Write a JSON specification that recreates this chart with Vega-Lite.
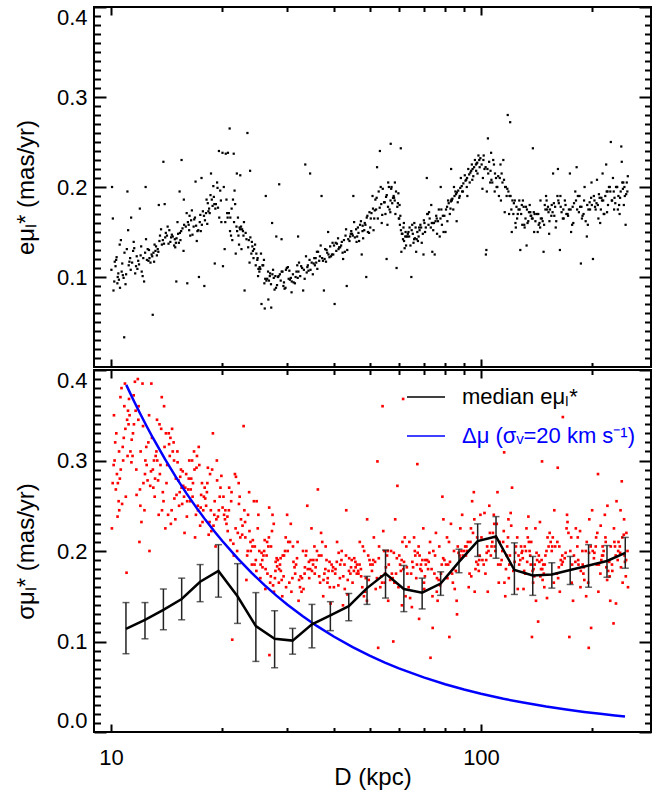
{
"$schema":"https://vega.github.io/schema/vega-lite/v6.json",
"padding":{"left":13,"top":5,"right":5,"bottom":5},
"spacing":0,
"resolve":{"scale":{"color":"independent"},"legend":{"color":"independent"}},
"config":{"font":"Liberation Sans","view":{"stroke":"#000","strokeWidth":2},
"axis":{"domain":false,"ticks":false,"tickSize":0,"grid":true,"gridColor":"#000","gridOpacity":1,"gridWidth":2,"gridCap":"butt","labelFont":"Liberation Sans","labelFontSize":22,"labelColor":"#000","titleFont":"Liberation Sans","titleFontSize":24,"titleFontWeight":"normal","titleColor":"#000"}},
"datasets":{
"top":[
{"d":10.07,"e":0.2},{"d":10.12,"e":0.165},{"d":10.21,"e":0.095},{"d":10.16,"e":0.085},{"d":10.43,"e":0.1},{"d":10.29,"e":0.112},{"d":10.58,"e":0.088},{"d":10.36,"e":0.122},{"d":10.77,"e":0.102},{"d":10.51,"e":0.097},{"d":10.64,"e":0.141},{"d":10.03,"e":0.108},{"d":10.88,"e":0.127},{"d":10.47,"e":0.104},{"d":10.95,"e":0.092},{"d":10.24,"e":0.117},{"d":11.04,"e":0.131},{"d":10.86,"e":0.033},{"d":10.69,"e":0.106},{"d":11.13,"e":0.152},{"d":10.33,"e":0.119},{"d":10.82,"e":0.099},{"d":11.08,"e":0.195},{"d":11.17,"e":0.113},{"d":10.56,"e":0.136},{"d":10.99,"e":0.103},{"d":10.41,"e":0.093},{"d":10.73,"e":0.115},
{"d":11.27,"e":0.121},{"d":11.63,"e":0.104},{"d":11.34,"e":0.166},{"d":11.91,"e":0.114},{"d":11.48,"e":0.129},{"d":12.18,"e":0.101},{"d":11.22,"e":0.117},{"d":12.44,"e":0.142},{"d":11.79,"e":0.109},{"d":12.03,"e":0.124},{"d":11.41,"e":0.116},{"d":12.29,"e":0.095},{"d":11.56,"e":0.132},{"d":12.51,"e":0.119},{"d":11.97,"e":0.176},{"d":11.69,"e":0.112},{"d":12.37,"e":0.127},{"d":11.85,"e":0.118},{"d":12.11,"e":0.106},{"d":11.52,"e":0.139},{"d":12.23,"e":0.121},{"d":12.41,"e":0.2},{"d":11.74,"e":0.123},{"d":12.57,"e":0.131},{"d":11.31,"e":0.108},{"d":12.07,"e":0.134},
{"d":12.63,"e":0.118},{"d":13.12,"e":0.136},{"d":12.88,"e":0.125},{"d":13.57,"e":0.146},{"d":12.71,"e":0.121},{"d":13.38,"e":0.131},{"d":12.97,"e":0.058},{"d":13.81,"e":0.141},{"d":13.03,"e":0.127},{"d":12.79,"e":0.116},{"d":13.66,"e":0.153},{"d":13.24,"e":0.134},{"d":12.93,"e":0.123},{"d":13.91,"e":0.137},{"d":13.47,"e":0.18},{"d":13.19,"e":0.129},{"d":14.02,"e":0.144},{"d":13.31,"e":0.124},{"d":13.73,"e":0.136},{"d":14.07,"e":0.149},{"d":12.67,"e":0.13},{"d":13.86,"e":0.228},{"d":13.52,"e":0.14},{"d":13.97,"e":0.181},{"d":13.08,"e":0.117},{"d":13.43,"e":0.128},
{"d":14.17,"e":0.146},{"d":14.92,"e":0.133},{"d":14.38,"e":0.152},{"d":15.26,"e":0.138},{"d":14.61,"e":0.147},{"d":15.71,"e":0.129},{"d":14.23,"e":0.156},{"d":15.04,"e":0.143},{"d":14.82,"e":0.135},{"d":15.48,"e":0.151},{"d":14.47,"e":0.139},{"d":15.13,"e":0.161},{"d":15.02,"e":0.095},{"d":14.69,"e":0.145},{"d":15.61,"e":0.154},{"d":14.31,"e":0.137},{"d":15.36,"e":0.149},{"d":15.33,"e":0.195},{"d":14.88,"e":0.142},{"d":15.52,"e":0.23},{"d":15.77,"e":0.158},{"d":14.54,"e":0.144},{"d":15.19,"e":0.148},{"d":15.74,"e":0.186},{"d":14.98,"e":0.138},{"d":15.41,"e":0.141},
{"d":15.93,"e":0.156},{"d":16.61,"e":0.147},{"d":16.14,"e":0.161},{"d":16.08,"e":0.093},{"d":17.22,"e":0.152},{"d":16.38,"e":0.146},{"d":16.87,"e":0.166},{"d":16.22,"e":0.158},{"d":17.49,"e":0.151},{"d":16.02,"e":0.171},{"d":16.73,"e":0.156},{"d":17.06,"e":0.14},{"d":16.47,"e":0.163},{"d":16.93,"e":0.206},{"d":17.61,"e":0.158},{"d":16.31,"e":0.168},{"d":17.13,"e":0.151},{"d":16.55,"e":0.174},{"d":17.38,"e":0.161},{"d":17.29,"e":0.1},{"d":16.79,"e":0.164},{"d":17.72,"e":0.173},{"d":16.99,"e":0.157},{"d":17.57,"e":0.21},{"d":17.44,"e":0.169},{"d":16.27,"e":0.152},
{"d":17.88,"e":0.09},{"d":18.42,"e":0.176},{"d":17.95,"e":0.163},{"d":19.21,"e":0.181},{"d":18.07,"e":0.171},{"d":18.73,"e":0.186},{"d":18.21,"e":0.159},{"d":19.47,"e":0.177},{"d":18.58,"e":0.191},{"d":17.84,"e":0.168},{"d":18.64,"e":0.215},{"d":19.03,"e":0.181},{"d":18.34,"e":0.173},{"d":18.91,"e":0.201},{"d":19.62,"e":0.166},{"d":18.13,"e":0.186},{"d":19.08,"e":0.115},{"d":18.82,"e":0.179},{"d":19.74,"e":0.196},{"d":18.49,"e":0.171},{"d":19.36,"e":0.205},{"d":18.97,"e":0.189},{"d":19.58,"e":0.24},{"d":19.15,"e":0.176},{"d":19.88,"e":0.161},{"d":19.41,"e":0.199},{"d":18.27,"e":0.182},{"d":19.82,"e":0.185},
{"d":20.02,"e":0.238},{"d":21.37,"e":0.186},{"d":20.61,"e":0.171},{"d":21.84,"e":0.156},{"d":20.18,"e":0.2},{"d":22.11,"e":0.146},{"d":20.43,"e":0.237},{"d":21.02,"e":0.166},{"d":21.66,"e":0.181},{"d":20.29,"e":0.131},{"d":20.71,"e":0.238},{"d":22.27,"e":0.155},{"d":21.19,"e":0.176},{"d":20.93,"e":0.265},{"d":21.51,"e":0.161},{"d":20.08,"e":0.112},{"d":21.93,"e":0.151},{"d":20.52,"e":0.186},{"d":22.04,"e":0.166},{"d":21.28,"e":0.141},{"d":21.47,"e":0.237},{"d":20.83,"e":0.171},{"d":22.33,"e":0.153},{"d":21.74,"e":0.126},{"d":20.37,"e":0.161},{"d":21.89,"e":0.215},{"d":21.11,"e":0.146},{"d":20.67,"e":0.166},{"d":22.19,"e":0.136},{"d":22.36,"e":0.213},{"d":20.98,"e":0.151},{"d":21.58,"e":0.196},
{"d":22.47,"e":0.156},{"d":23.58,"e":0.141},{"d":22.88,"e":0.161},{"d":24.37,"e":0.131},{"d":23.12,"e":0.149},{"d":22.97,"e":0.085},{"d":24.03,"e":0.139},{"d":22.62,"e":0.153},{"d":24.71,"e":0.126},{"d":23.38,"e":0.26},{"d":23.81,"e":0.144},{"d":22.53,"e":0.131},{"d":24.52,"e":0.136},{"d":23.77,"e":0.218},{"d":24.91,"e":0.121},{"d":23.24,"e":0.142},{"d":24.19,"e":0.129},{"d":24.86,"e":0.119},{"d":23.49,"e":0.133},{"d":24.62,"e":0.113},{"d":23.96,"e":0.126},{"d":22.74,"e":0.151},{"d":25.04,"e":0.109},{"d":24.28,"e":0.121},{"d":24.98,"e":0.101},{"d":23.69,"e":0.116},{"d":22.81,"e":0.146},{"d":24.11,"e":0.134},
{"d":25.18,"e":0.106},{"d":26.44,"e":0.098},{"d":25.67,"e":0.113},{"d":25.52,"e":0.07},{"d":27.31,"e":0.103},{"d":25.91,"e":0.119},{"d":26.73,"e":0.096},{"d":25.33,"e":0.109},{"d":26.04,"e":0.065},{"d":27.82,"e":0.101},{"d":26.21,"e":0.19},{"d":25.79,"e":0.113},{"d":27.07,"e":0.092},{"d":26.58,"e":0.106},{"d":26.63,"e":0.075},{"d":27.54,"e":0.099},{"d":25.44,"e":0.126},{"d":27.93,"e":0.088},{"d":26.92,"e":0.104},{"d":27.11,"e":0.066},{"d":26.31,"e":0.096},{"d":27.26,"e":0.16},{"d":25.23,"e":0.111},{"d":28.11,"e":0.091},{"d":26.87,"e":0.101},{"d":27.68,"e":0.086},{"d":26.12,"e":0.098},{"d":27.98,"e":0.145},{"d":25.98,"e":0.093},{"d":27.42,"e":0.108},
{"d":28.27,"e":0.1},{"d":29.63,"e":0.088},{"d":28.49,"e":0.203},{"d":30.81,"e":0.095},{"d":28.93,"e":0.106},{"d":29.24,"e":0.09},{"d":28.91,"e":0.142},{"d":30.22,"e":0.098},{"d":29.46,"e":0.087},{"d":28.61,"e":0.103},{"d":31.17,"e":0.094},{"d":29.87,"e":0.11},{"d":30.46,"e":0.097},{"d":28.38,"e":0.101},{"d":31.42,"e":0.093},{"d":29.08,"e":0.106},{"d":30.63,"e":0.099},{"d":29.71,"e":0.108},{"d":30.77,"e":0.083},{"d":31.03,"e":0.103},{"d":28.76,"e":0.096},{"d":30.07,"e":0.111},{"d":31.55,"e":0.1},{"d":29.35,"e":0.094},{"d":30.35,"e":0.107},
{"d":31.72,"e":0.106},{"d":33.38,"e":0.098},{"d":32.04,"e":0.145},{"d":34.62,"e":0.108},{"d":32.47,"e":0.101},{"d":31.88,"e":0.113},{"d":33.81,"e":0.105},{"d":32.86,"e":0.11},{"d":33.07,"e":0.085},{"d":34.19,"e":0.107},{"d":32.23,"e":0.116},{"d":33.51,"e":0.225},{"d":35.12,"e":0.103},{"d":32.66,"e":0.112},{"d":34.41,"e":0.119},{"d":33.22,"e":0.108},{"d":35.31,"e":0.115},{"d":34.53,"e":0.215},{"d":33.94,"e":0.111},{"d":35.44,"e":0.121},{"d":32.11,"e":0.106},{"d":34.87,"e":0.116},{"d":33.66,"e":0.123},{"d":31.97,"e":0.099},{"d":34.05,"e":0.113},
{"d":35.58,"e":0.113},{"d":37.22,"e":0.121},{"d":36.12,"e":0.109},{"d":38.71,"e":0.125},{"d":35.87,"e":0.116},{"d":37.93,"e":0.131},{"d":36.54,"e":0.118},{"d":39.33,"e":0.123},{"d":37.08,"e":0.19},{"d":36.29,"e":0.128},{"d":38.12,"e":0.117},{"d":37.63,"e":0.085},{"d":35.74,"e":0.121},{"d":38.94,"e":0.122},{"d":36.88,"e":0.135},{"d":39.56,"e":0.125},{"d":37.41,"e":0.118},{"d":38.63,"e":0.15},{"d":36.03,"e":0.128},{"d":39.12,"e":0.134},{"d":37.79,"e":0.12},{"d":38.41,"e":0.127},{"d":39.71,"e":0.138},{"d":36.71,"e":0.123},{"d":38.26,"e":0.13},
{"d":39.88,"e":0.125},{"d":41.63,"e":0.133},{"d":40.22,"e":0.07},{"d":42.86,"e":0.128},{"d":40.49,"e":0.138},{"d":43.51,"e":0.13},{"d":41.09,"e":0.143},{"d":40.07,"e":0.135},{"d":42.27,"e":0.127},{"d":44.12,"e":0.14},{"d":41.37,"e":0.133},{"d":43.04,"e":0.146},{"d":42.41,"e":0.12},{"d":40.81,"e":0.137},{"d":44.48,"e":0.148},{"d":41.88,"e":0.135},{"d":43.78,"e":0.142},{"d":43.37,"e":0.09},{"d":42.06,"e":0.139},{"d":44.61,"e":0.151},{"d":41.21,"e":0.131},{"d":43.19,"e":0.153},{"d":40.64,"e":0.129},{"d":44.29,"e":0.145},{"d":42.63,"e":0.141},
{"d":44.83,"e":0.148},{"d":46.84,"e":0.14},{"d":45.19,"e":0.19},{"d":48.36,"e":0.152},{"d":45.62,"e":0.144},{"d":47.12,"e":0.158},{"d":46.11,"e":0.139},{"d":49.47,"e":0.15},{"d":45.41,"e":0.161},{"d":48.03,"e":0.143},{"d":46.49,"e":0.155},{"d":49.83,"e":0.149},{"d":47.38,"e":0.162},{"d":47.61,"e":0.125},{"d":45.97,"e":0.153},{"d":48.71,"e":0.158},{"d":46.28,"e":0.145},{"d":49.12,"e":0.166},{"d":47.84,"e":0.151},{"d":48.97,"e":0.1},{"d":45.04,"e":0.146},{"d":49.31,"e":0.168},{"d":46.66,"e":0.149},{"d":48.52,"e":0.16},{"d":49.96,"e":0.172},{"d":47.89,"e":0.157},
{"d":50.21,"e":0.155},{"d":52.63,"e":0.165},{"d":51.07,"e":0.176},{"d":53.92,"e":0.16},{"d":50.58,"e":0.171},{"d":54.71,"e":0.183},{"d":51.46,"e":0.165},{"d":52.38,"e":0.222},{"d":53.24,"e":0.177},{"d":50.92,"e":0.19},{"d":53.31,"e":0.24},{"d":55.18,"e":0.17},{"d":51.83,"e":0.186},{"d":54.27,"e":0.198},{"d":52.07,"e":0.175},{"d":55.63,"e":0.191},{"d":53.58,"e":0.2},{"d":50.37,"e":0.165},{"d":54.93,"e":0.183},{"d":55.58,"e":0.12},{"d":52.91,"e":0.195},{"d":56.07,"e":0.178},{"d":51.24,"e":0.152},{"d":54.09,"e":0.169},{"d":55.87,"e":0.158},{"d":52.24,"e":0.188},{"d":53.76,"e":0.181},{"d":55.39,"e":0.189},{"d":56.13,"e":0.205},{"d":51.63,"e":0.174},
{"d":56.37,"e":0.2},{"d":58.46,"e":0.185},{"d":57.02,"e":0.248},{"d":59.81,"e":0.193},{"d":56.88,"e":0.172},{"d":57.56,"e":0.182},{"d":58.93,"e":0.195},{"d":57.31,"e":0.2},{"d":59.14,"e":0.11},{"d":58.07,"e":0.19},{"d":59.42,"e":0.178},{"d":57.84,"e":0.188},{"d":58.71,"e":0.17},{"d":59.62,"e":0.182},{"d":56.61,"e":0.175},{"d":58.23,"e":0.188},{"d":57.19,"e":0.198},{"d":56.95,"e":0.185},{"d":59.97,"e":0.165},{"d":58.52,"e":0.205},
{"d":60.12,"e":0.165},{"d":61.34,"e":0.148},{"d":62.41,"e":0.145},{"d":60.77,"e":0.152},{"d":61.96,"e":0.14},{"d":60.71,"e":0.243},{"d":62.73,"e":0.135},{"d":60.38,"e":0.158},{"d":61.55,"e":0.142},{"d":62.18,"e":0.132},{"d":61.12,"e":0.148},{"d":60.54,"e":0.168},{"d":62.91,"e":0.145},{"d":61.73,"e":0.155},{"d":60.93,"e":0.128},{"d":60.25,"e":0.18},{"d":61.88,"e":0.16},{"d":62.55,"e":0.15},
{"d":63.27,"e":0.145},{"d":65.71,"e":0.138},{"d":64.12,"e":0.155},{"d":67.54,"e":0.14},{"d":63.68,"e":0.15},{"d":64.83,"e":0.1},{"d":66.29,"e":0.143},{"d":68.91,"e":0.155},{"d":64.47,"e":0.135},{"d":69.63,"e":0.148},{"d":65.18,"e":0.158},{"d":67.02,"e":0.142},{"d":66.81,"e":0.128},{"d":68.24,"e":0.152},{"d":63.95,"e":0.145},{"d":70.34,"e":0.16},{"d":65.42,"e":0.148},{"d":69.17,"e":0.138},{"d":66.57,"e":0.155},{"d":70.08,"e":0.163},{"d":67.83,"e":0.145},{"d":64.96,"e":0.152},{"d":69.92,"e":0.125},{"d":68.58,"e":0.158},{"d":70.61,"e":0.15},{"d":63.43,"e":0.148},{"d":66.04,"e":0.16},{"d":67.29,"e":0.15},{"d":68.03,"e":0.155},{"d":65.96,"e":0.142},
{"d":70.93,"e":0.155},{"d":71.38,"e":0.21},{"d":73.62,"e":0.16},{"d":76.08,"e":0.148},{"d":72.14,"e":0.158},{"d":77.71,"e":0.165},{"d":74.29,"e":0.152},{"d":73.86,"e":0.128},{"d":75.37,"e":0.162},{"d":71.82,"e":0.17},{"d":74.97,"e":0.125},{"d":78.42,"e":0.158},{"d":72.66,"e":0.165},{"d":76.91,"e":0.175},{"d":74.63,"e":0.16},{"d":78.88,"e":0.168},{"d":73.17,"e":0.155},{"d":77.83,"e":0.2},{"d":75.94,"e":0.165},{"d":72.39,"e":0.172},{"d":76.52,"e":0.162},{"d":71.57,"e":0.17},{"d":77.36,"e":0.145},{"d":75.68,"e":0.168},{"d":79.21,"e":0.15},{"d":73.38,"e":0.18},{"d":74.11,"e":0.16},{"d":78.13,"e":0.175},
{"d":81.8,"e":0.182},{"d":82.9,"e":0.184},{"d":83.7,"e":0.187},{"d":84.8,"e":0.19},{"d":85.6,"e":0.192},{"d":86.8,"e":0.196},{"d":87.9,"e":0.199},{"d":88.7,"e":0.201},{"d":83.2,"e":0.186},{"d":86.1,"e":0.194},{"d":79.62,"e":0.168},{"d":80.44,"e":0.175},{"d":81.13,"e":0.162},{"d":80.97,"e":0.178},{"d":82.36,"e":0.17},{"d":83.41,"e":0.185},{"d":84.16,"e":0.175},{"d":85.27,"e":0.195},{"d":86.53,"e":0.183},{"d":84.52,"e":0.2},{"d":87.33,"e":0.188},{"d":88.21,"e":0.21},{"d":80.18,"e":0.15},{"d":83.04,"e":0.22},{"d":85.94,"e":0.162},{"d":87.62,"e":0.19},{"d":88.93,"e":0.195},{"d":81.47,"e":0.185},{"d":82.71,"e":0.176},
{"d":89.6,"e":0.204},{"d":90.8,"e":0.207},{"d":91.7,"e":0.21},{"d":92.9,"e":0.214},{"d":93.6,"e":0.216},{"d":94.9,"e":0.22},{"d":95.8,"e":0.222},{"d":96.9,"e":0.225},{"d":97.7,"e":0.227},{"d":98.9,"e":0.23},{"d":99.6,"e":0.232},{"d":91.2,"e":0.208},{"d":94.1,"e":0.218},{"d":97.3,"e":0.226},{"d":89.37,"e":0.195},{"d":90.41,"e":0.213},{"d":91.53,"e":0.2},{"d":92.38,"e":0.22},{"d":93.22,"e":0.205},{"d":94.46,"e":0.225},{"d":95.31,"e":0.212},{"d":96.28,"e":0.23},{"d":97.04,"e":0.218},{"d":98.42,"e":0.235},{"d":99.17,"e":0.222},{"d":91.86,"e":0.19},{"d":94.73,"e":0.208},{"d":97.86,"e":0.215},
{"d":100.4,"e":0.225},{"d":104.6,"e":0.215},{"d":101.7,"e":0.235},{"d":107.3,"e":0.205},{"d":102.2,"e":0.22},{"d":103.1,"e":0.125},{"d":109.8,"e":0.21},{"d":105.2,"e":0.228},{"d":104.4,"e":0.254},{"d":110.7,"e":0.2},{"d":106.1,"e":0.218},{"d":101.2,"e":0.21},{"d":108.4,"e":0.225},{"d":103.7,"e":0.195},{"d":111.3,"e":0.212},{"d":105.9,"e":0.205},{"d":102.9,"e":0.222},{"d":107.9,"e":0.23},{"d":100.9,"e":0.198},{"d":109.1,"e":0.215},{"d":106.7,"e":0.208},{"d":111.8,"e":0.19},{"d":104.1,"e":0.22},{"d":103.4,"e":0.13},{"d":106.5,"e":0.238},{"d":110.2,"e":0.2},{"d":101.5,"e":0.23},{"d":108.9,"e":0.195},
{"d":112.4,"e":0.21},{"d":116.2,"e":0.2},{"d":113.7,"e":0.215},{"d":119.4,"e":0.19},{"d":114.3,"e":0.205},{"d":117.8,"e":0.198},{"d":112.9,"e":0.225},{"d":121.6,"e":0.185},{"d":115.4,"e":0.208},{"d":118.6,"e":0.195},{"d":114.9,"e":0.23},{"d":118.1,"e":0.28},{"d":120.2,"e":0.19},{"d":116.7,"e":0.2},{"d":119.9,"e":0.272},{"d":123.4,"e":0.185},{"d":121.1,"e":0.15},{"d":124.7,"e":0.178},{"d":122.3,"e":0.17},{"d":117.3,"e":0.19},{"d":125.2,"e":0.165},{"d":120.8,"e":0.175},{"d":123.9,"e":0.16},{"d":122.7,"e":0.182},{"d":125.7,"e":0.17},{"d":124.2,"e":0.155},{"d":119.1,"e":0.17},{"d":115.9,"e":0.172},{"d":113.2,"e":0.185},
{"d":126.3,"e":0.175},{"d":131.9,"e":0.165},{"d":127.7,"e":0.13},{"d":135.4,"e":0.18},{"d":128.4,"e":0.17},{"d":133.6,"e":0.16},{"d":126.9,"e":0.185},{"d":138.9,"e":0.172},{"d":129.3,"e":0.158},{"d":136.7,"e":0.168},{"d":130.4,"e":0.178},{"d":134.2,"e":0.162},{"d":127.2,"e":0.175},{"d":132.8,"e":0.135},{"d":139.6,"e":0.17},{"d":129.8,"e":0.185},{"d":137.3,"e":0.165},{"d":131.2,"e":0.155},{"d":135.9,"e":0.172},{"d":128.9,"e":0.18},{"d":140.3,"e":0.162},{"d":133.1,"e":0.175},{"d":136.2,"e":0.168},{"d":138.1,"e":0.243},{"d":130.9,"e":0.158},{"d":134.8,"e":0.172},{"d":139.2,"e":0.15},{"d":132.3,"e":0.178},{"d":137.9,"e":0.165},
{"d":141.4,"e":0.17},{"d":148.7,"e":0.18},{"d":143.2,"e":0.158},{"d":153.6,"e":0.175},{"d":145.1,"e":0.165},{"d":150.4,"e":0.185},{"d":142.3,"e":0.15},{"d":156.1,"e":0.172},{"d":146.8,"e":0.162},{"d":151.7,"e":0.178},{"d":144.5,"e":0.155},{"d":154.9,"e":0.168},{"d":147.6,"e":0.128},{"d":149.3,"e":0.175},{"d":157.4,"e":0.182},{"d":143.9,"e":0.16},{"d":152.2,"e":0.172},{"d":146.1,"e":0.165},{"d":155.3,"e":0.18},{"d":148.1,"e":0.158},{"d":150.9,"e":0.175},{"d":157.8,"e":0.168},{"d":144.8,"e":0.185},{"d":153.1,"e":0.162},{"d":142.8,"e":0.17},{"d":149.9,"e":0.19},{"d":152.8,"e":0.148},{"d":156.6,"e":0.215},
{"d":158.6,"e":0.178},{"d":167.3,"e":0.165},{"d":161.8,"e":0.185},{"d":171.4,"e":0.17},{"d":163.4,"e":0.13},{"d":174.6,"e":0.175},{"d":159.7,"e":0.162},{"d":169.2,"e":0.18},{"d":165.1,"e":0.172},{"d":176.3,"e":0.158},{"d":160.9,"e":0.19},{"d":172.8,"e":0.175},{"d":166.4,"e":0.165},{"d":162.3,"e":0.182},{"d":170.1,"e":0.17},{"d":173.9,"e":0.215},{"d":164.2,"e":0.178},{"d":177.6,"e":0.16},{"d":168.5,"e":0.185},{"d":175.2,"e":0.15},{"d":163.9,"e":0.19},{"d":171.9,"e":0.168},{"d":159.2,"e":0.155},{"d":166.9,"e":0.175},{"d":161.4,"e":0.22},{"d":176.9,"e":0.178},
{"d":178.4,"e":0.182},{"d":189.3,"e":0.17},{"d":182.7,"e":0.19},{"d":195.1,"e":0.175},{"d":180.6,"e":0.185},{"d":191.8,"e":0.162},{"d":185.3,"e":0.178},{"d":186.2,"e":0.115},{"d":198.4,"e":0.188},{"d":183.9,"e":0.172},{"d":193.7,"e":0.18},{"d":179.8,"e":0.195},{"d":188.1,"e":0.168},{"d":196.6,"e":0.183},{"d":181.9,"e":0.175},{"d":190.5,"e":0.2},{"d":187.4,"e":0.165},{"d":199.3,"e":0.18},{"d":193.2,"e":0.145},{"d":184.6,"e":0.19},{"d":197.1,"e":0.175},{"d":189.9,"e":0.185},{"d":181.3,"e":0.222},{"d":194.4,"e":0.158},{"d":186.8,"e":0.178},{"d":198.9,"e":0.205},
{"d":200.7,"e":0.12},{"d":212.3,"e":0.185},{"d":204.1,"e":0.175},{"d":218.6,"e":0.195},{"d":206.9,"e":0.18},{"d":201.8,"e":0.19},{"d":215.4,"e":0.17},{"d":209.2,"e":0.188},{"d":221.7,"e":0.2},{"d":203.3,"e":0.178},{"d":213.9,"e":0.185},{"d":207.6,"e":0.165},{"d":219.8,"e":0.195},{"d":205.2,"e":0.182},{"d":216.7,"e":0.19},{"d":210.8,"e":0.175},{"d":222.9,"e":0.2},{"d":202.6,"e":0.185},{"d":214.6,"e":0.17},{"d":208.3,"e":0.192},{"d":220.4,"e":0.18},{"d":217.9,"e":0.225},{"d":211.5,"e":0.188},{"d":223.6,"e":0.195},{"d":205.8,"e":0.208},{"d":209.9,"e":0.16},{"d":213.1,"e":0.215},{"d":219.1,"e":0.172},
{"d":224.3,"e":0.25},{"d":237.6,"e":0.188},{"d":228.4,"e":0.195},{"d":243.2,"e":0.18},{"d":231.7,"e":0.2},{"d":226.1,"e":0.185},{"d":246.8,"e":0.192},{"d":234.3,"e":0.175},{"d":240.9,"e":0.205},{"d":229.5,"e":0.188},{"d":248.6,"e":0.195},{"d":236.2,"e":0.18},{"d":232.8,"e":0.2},{"d":244.7,"e":0.19},{"d":227.3,"e":0.21},{"d":239.4,"e":0.245},{"d":225.6,"e":0.185},{"d":241.8,"e":0.198},{"d":235.1,"e":0.19},{"d":247.7,"e":0.205},{"d":230.6,"e":0.182},{"d":238.5,"e":0.195},{"d":245.9,"e":0.158},{"d":233.4,"e":0.2},{"d":249.3,"e":0.212},{"d":242.4,"e":0.205},{"d":228.9,"e":0.175},{"d":240.1,"e":0.228},{"d":236.9,"e":0.17},{"d":244.1,"e":0.2}
],
"bot":[
{"d":10.06,"s":0.225},{"d":10.11,"s":0.275},{"d":10.17,"s":0.295},{"d":10.19,"s":0.35},{"d":10.23,"s":0.3},{"d":10.27,"s":0.32},{"d":10.31,"s":0.268},{"d":10.34,"s":0.33},{"d":10.38,"s":0.285},{"d":10.42,"s":0.238},{"d":10.44,"s":0.275},{"d":10.49,"s":0.255},{"d":10.52,"s":0.31},{"d":10.53,"s":0.245},{"d":10.57,"s":0.28},{"d":10.61,"s":0.37},{"d":10.63,"s":0.29},{"d":10.68,"s":0.38},{"d":10.72,"s":0.252},{"d":10.76,"s":0.315},{"d":10.79,"s":0.3},{"d":10.83,"s":0.325},{"d":10.87,"s":0.36},{"d":10.91,"s":0.385},{"d":10.94,"s":0.335},{"d":10.97,"s":0.26},{"d":11.02,"s":0.176},{"d":11.06,"s":0.345},{"d":11.09,"s":0.305},{"d":11.12,"s":0.355},{"d":11.16,"s":0.34},{"d":11.19,"s":0.368},
{"d":11.23,"s":0.35},{"d":11.29,"s":0.31},{"d":11.36,"s":0.298},{"d":11.38,"s":0.323},{"d":11.44,"s":0.305},{"d":11.47,"s":0.33},{"d":11.52,"s":0.372},{"d":11.54,"s":0.34},{"d":11.61,"s":0.387},{"d":11.66,"s":0.355},{"d":11.71,"s":0.29},{"d":11.73,"s":0.262},{"d":11.82,"s":0.39},{"d":11.86,"s":0.345},{"d":11.88,"s":0.36},{"d":11.94,"s":0.21},{"d":11.98,"s":0.268},{"d":12.01,"s":0.25},{"d":12.03,"s":0.31},{"d":12.09,"s":0.232},{"d":12.17,"s":0.385},{"d":12.21,"s":0.338},{"d":12.24,"s":0.275},{"d":12.32,"s":0.245},{"d":12.36,"s":0.285},{"d":12.39,"s":0.3},{"d":12.46,"s":0.315},{"d":12.49,"s":0.295},{"d":12.56,"s":0.278},
{"d":12.62,"s":0.32},{"d":12.68,"s":0.35},{"d":12.71,"s":0.2},{"d":12.77,"s":0.272},{"d":12.83,"s":0.288},{"d":12.86,"s":0.385},{"d":12.91,"s":0.325},{"d":12.98,"s":0.29},{"d":13.02,"s":0.27},{"d":13.07,"s":0.3},{"d":13.13,"s":0.26},{"d":13.16,"s":0.28},{"d":13.21,"s":0.305},{"d":13.27,"s":0.31},{"d":13.32,"s":0.345},{"d":13.34,"s":0.3},{"d":13.41,"s":0.278},{"d":13.46,"s":0.24},{"d":13.53,"s":0.34},{"d":13.56,"s":0.285},{"d":13.61,"s":0.295},{"d":13.67,"s":0.335},{"d":13.72,"s":0.37},{"d":13.74,"s":0.245},{"d":13.81,"s":0.265},{"d":13.87,"s":0.255},{"d":13.92,"s":0.36},{"d":13.96,"s":0.315},{"d":14.03,"s":0.225},{"d":14.08,"s":0.33},
{"d":14.13,"s":0.275},{"d":14.19,"s":0.295},{"d":14.27,"s":0.24},{"d":14.33,"s":0.33},{"d":14.36,"s":0.318},{"d":14.42,"s":0.305},{"d":14.48,"s":0.325},{"d":14.52,"s":0.23},{"d":14.59,"s":0.245},{"d":14.63,"s":0.335},{"d":14.69,"s":0.31},{"d":14.77,"s":0.32},{"d":14.81,"s":0.3},{"d":14.84,"s":0.258},{"d":14.93,"s":0.235},{"d":14.98,"s":0.28},{"d":15.04,"s":0.262},{"d":15.12,"s":0.31},{"d":15.14,"s":0.298},{"d":15.22,"s":0.278},{"d":15.28,"s":0.25},{"d":15.34,"s":0.265},{"d":15.39,"s":0.282},{"d":15.46,"s":0.29},{"d":15.52,"s":0.27},{"d":15.58,"s":0.252},{"d":15.63,"s":0.288},{"d":15.68,"s":0.272},{"d":15.76,"s":0.26},{"d":15.81,"s":0.22},
{"d":15.88,"s":0.27},{"d":15.97,"s":0.285},{"d":16.04,"s":0.238},{"d":16.07,"s":0.255},{"d":16.17,"s":0.268},{"d":16.23,"s":0.28},{"d":16.28,"s":0.3},{"d":16.37,"s":0.255},{"d":16.43,"s":0.268},{"d":16.48,"s":0.28},{"d":16.57,"s":0.3},{"d":16.62,"s":0.26},{"d":16.66,"s":0.275},{"d":16.77,"s":0.31},{"d":16.82,"s":0.29},{"d":16.88,"s":0.215},{"d":16.97,"s":0.24},{"d":17.03,"s":0.292},{"d":17.08,"s":0.305},{"d":17.17,"s":0.25},{"d":17.19,"s":0.245},{"d":17.27,"s":0.315},{"d":17.33,"s":0.295},{"d":17.42,"s":0.228},{"d":17.48,"s":0.248},{"d":17.53,"s":0.262},{"d":17.62,"s":0.275},{"d":17.68,"s":0.232},{"d":17.76,"s":0.245},
{"d":17.83,"s":0.26},{"d":17.92,"s":0.27},{"d":17.98,"s":0.258},{"d":18.08,"s":0.25},{"d":18.17,"s":0.265},{"d":18.22,"s":0.275},{"d":18.28,"s":0.292},{"d":18.37,"s":0.218},{"d":18.47,"s":0.232},{"d":18.53,"s":0.285},{"d":18.62,"s":0.245},{"d":18.68,"s":0.222},{"d":18.77,"s":0.29},{"d":18.86,"s":0.33},{"d":18.93,"s":0.228},{"d":19.02,"s":0.24},{"d":19.07,"s":0.255},{"d":19.18,"s":0.205},{"d":19.27,"s":0.235},{"d":19.33,"s":0.3},{"d":19.36,"s":0.278},{"d":19.46,"s":0.238},{"d":19.57,"s":0.245},{"d":19.68,"s":0.26},{"d":19.77,"s":0.27},{"d":19.88,"s":0.283},
{"d":20.03,"s":0.248},{"d":20.14,"s":0.26},{"d":20.22,"s":0.24},{"d":20.33,"s":0.235},{"d":20.38,"s":0.245},{"d":20.52,"s":0.23},{"d":20.64,"s":0.238},{"d":20.68,"s":0.222},{"d":20.83,"s":0.245},{"d":20.87,"s":0.27},{"d":21.04,"s":0.212},{"d":21.13,"s":0.255},{"d":21.18,"s":0.265},{"d":21.27,"s":0.102},{"d":21.42,"s":0.208},{"d":21.48,"s":0.195},{"d":21.63,"s":0.285},{"d":21.72,"s":0.225},{"d":21.77,"s":0.282},{"d":21.93,"s":0.2},{"d":22.02,"s":0.22},{"d":22.14,"s":0.275},{"d":22.18,"s":0.252},{"d":22.28,"s":0.26},{"d":22.37,"s":0.215},
{"d":22.46,"s":0.235},{"d":22.63,"s":0.218},{"d":22.68,"s":0.228},{"d":22.83,"s":0.338},{"d":22.94,"s":0.245},{"d":23.04,"s":0.232},{"d":23.08,"s":0.215},{"d":23.23,"s":0.168},{"d":23.34,"s":0.195},{"d":23.42,"s":0.2},{"d":23.47,"s":0.24},{"d":23.63,"s":0.265},{"d":23.68,"s":0.222},{"d":23.83,"s":0.21},{"d":23.87,"s":0.2},{"d":24.04,"s":0.185},{"d":24.13,"s":0.205},{"d":24.18,"s":0.212},{"d":24.34,"s":0.255},{"d":24.43,"s":0.185},{"d":24.48,"s":0.205},{"d":24.63,"s":0.19},{"d":24.72,"s":0.178},{"d":24.76,"s":0.255},{"d":24.93,"s":0.225},{"d":25.03,"s":0.24},
{"d":25.17,"s":0.2},{"d":25.34,"s":0.17},{"d":25.38,"s":0.185},{"d":25.53,"s":0.198},{"d":25.64,"s":0.19},{"d":25.68,"s":0.182},{"d":25.83,"s":0.195},{"d":25.94,"s":0.2},{"d":26.03,"s":0.212},{"d":26.14,"s":0.158},{"d":26.18,"s":0.18},{"d":26.34,"s":0.195},{"d":26.43,"s":0.21},{"d":26.48,"s":0.175},{"d":26.63,"s":0.205},{"d":26.72,"s":0.215},{"d":26.77,"s":0.248},{"d":26.93,"s":0.165},{"d":27.04,"s":0.172},{"d":27.08,"s":0.205},{"d":27.24,"s":0.222},{"d":27.33,"s":0.24},{"d":27.43,"s":0.162},{"d":27.54,"s":0.23},{"d":27.58,"s":0.155},{"d":27.74,"s":0.17},{"d":27.83,"s":0.178},{"d":27.87,"s":0.188},{"d":28.04,"s":0.192},{"d":28.13,"s":0.183},{"d":26.81,"s":0.085},
{"d":28.24,"s":0.19},{"d":28.43,"s":0.165},{"d":28.47,"s":0.18},{"d":28.63,"s":0.185},{"d":28.74,"s":0.192},{"d":28.78,"s":0.178},{"d":28.94,"s":0.168},{"d":29.04,"s":0.15},{"d":29.13,"s":0.195},{"d":29.28,"s":0.172},{"d":29.36,"s":0.195},{"d":29.54,"s":0.2},{"d":29.67,"s":0.215},{"d":29.74,"s":0.16},{"d":29.93,"s":0.24},{"d":30.04,"s":0.2},{"d":30.14,"s":0.21},{"d":30.34,"s":0.165},{"d":30.47,"s":0.21},{"d":30.62,"s":0.23},{"d":30.74,"s":0.155},{"d":30.93,"s":0.17},{"d":31.04,"s":0.205},{"d":31.14,"s":0.188},{"d":31.34,"s":0.182},{"d":31.47,"s":0.175},
{"d":31.64,"s":0.185},{"d":31.83,"s":0.192},{"d":31.94,"s":0.21},{"d":32.14,"s":0.145},{"d":32.24,"s":0.168},{"d":32.43,"s":0.16},{"d":32.54,"s":0.172},{"d":32.74,"s":0.155},{"d":32.83,"s":0.17},{"d":33.04,"s":0.2},{"d":33.14,"s":0.158},{"d":33.37,"s":0.175},{"d":33.43,"s":0.182},{"d":33.63,"s":0.195},{"d":33.74,"s":0.2},{"d":33.93,"s":0.25},{"d":34.04,"s":0.18},{"d":34.27,"s":0.188},{"d":34.34,"s":0.17},{"d":34.54,"s":0.18},{"d":34.64,"s":0.19},{"d":34.83,"s":0.225},{"d":34.94,"s":0.178},{"d":35.17,"s":0.185},{"d":35.24,"s":0.19},{"d":35.47,"s":0.205},
{"d":35.54,"s":0.175},{"d":35.74,"s":0.182},{"d":35.97,"s":0.19},{"d":36.04,"s":0.2},{"d":36.24,"s":0.268},{"d":36.47,"s":0.195},{"d":36.54,"s":0.172},{"d":36.74,"s":0.165},{"d":36.97,"s":0.22},{"d":37.04,"s":0.195},{"d":37.24,"s":0.21},{"d":37.47,"s":0.15},{"d":37.54,"s":0.168},{"d":37.74,"s":0.175},{"d":37.97,"s":0.18},{"d":38.04,"s":0.205},{"d":38.24,"s":0.19},{"d":38.47,"s":0.165},{"d":38.54,"s":0.17},{"d":38.74,"s":0.178},{"d":38.97,"s":0.188},{"d":39.04,"s":0.16},{"d":39.24,"s":0.142},{"d":39.47,"s":0.185},{"d":39.67,"s":0.178},
{"d":39.84,"s":0.182},{"d":40.04,"s":0.16},{"d":40.37,"s":0.175},{"d":40.44,"s":0.18},{"d":40.77,"s":0.188},{"d":40.84,"s":0.21},{"d":41.17,"s":0.162},{"d":41.24,"s":0.198},{"d":41.57,"s":0.17},{"d":41.64,"s":0.185},{"d":41.97,"s":0.19},{"d":42.04,"s":0.2},{"d":42.37,"s":0.14},{"d":42.44,"s":0.172},{"d":42.77,"s":0.185},{"d":42.84,"s":0.158},{"d":43.17,"s":0.195},{"d":43.24,"s":0.245},{"d":43.57,"s":0.152},{"d":43.64,"s":0.168},{"d":43.97,"s":0.178},{"d":44.04,"s":0.192},{"d":44.37,"s":0.175},{"d":44.54,"s":0.182},
{"d":44.74,"s":0.19},{"d":44.97,"s":0.165},{"d":45.34,"s":0.178},{"d":45.44,"s":0.192},{"d":45.77,"s":0.188},{"d":45.84,"s":0.182},{"d":46.17,"s":0.175},{"d":46.24,"s":0.185},{"d":46.57,"s":0.178},{"d":46.64,"s":0.175},{"d":46.97,"s":0.185},{"d":47.04,"s":0.21},{"d":47.37,"s":0.18},{"d":47.44,"s":0.172},{"d":47.77,"s":0.16},{"d":47.94,"s":0.205},{"d":48.27,"s":0.15},{"d":48.34,"s":0.2},{"d":48.67,"s":0.155},{"d":48.84,"s":0.17},{"d":49.17,"s":0.145},{"d":49.24,"s":0.235},{"d":49.57,"s":0.195},{"d":49.74,"s":0.168},{"d":49.97,"s":0.19},
{"d":50.24,"s":0.185},{"d":50.74,"s":0.178},{"d":50.94,"s":0.185},{"d":51.14,"s":0.19},{"d":51.34,"s":0.215},{"d":51.74,"s":0.188},{"d":51.94,"s":0.158},{"d":52.34,"s":0.17},{"d":52.94,"s":0.192},{"d":53.04,"s":0.205},{"d":53.44,"s":0.16},{"d":53.74,"s":0.172},{"d":54.04,"s":0.165},{"d":54.44,"s":0.222},{"d":54.74,"s":0.2},{"d":54.94,"s":0.165},{"d":55.04,"s":0.175},{"d":55.34,"s":0.182},{"d":55.74,"s":0.195},{"d":55.94,"s":0.2},{"d":56.14,"s":0.145},{"d":52.5,"s":0.299},{"d":54.2,"s":0.36},{"d":52.74,"s":0.093},
{"d":56.34,"s":0.185},{"d":56.84,"s":0.168},{"d":57.14,"s":0.2},{"d":57.44,"s":0.175},{"d":57.74,"s":0.17},{"d":58.14,"s":0.198},{"d":58.34,"s":0.165},{"d":58.64,"s":0.235},{"d":58.94,"s":0.175},{"d":59.24,"s":0.192},{"d":59.84,"s":0.16},{"d":60.14,"s":0.195},{"d":60.44,"s":0.185},{"d":60.74,"s":0.178},{"d":61.04,"s":0.19},{"d":61.34,"s":0.21},{"d":61.64,"s":0.18},{"d":61.94,"s":0.188},{"d":62.24,"s":0.215},{"d":62.54,"s":0.15},{"d":62.84,"s":0.205},{"d":63.04,"s":0.182},{"d":57.94,"s":0.1},{"d":59.44,"s":0.272},{"d":61.6,"s":0.368},{"d":61.14,"s":0.14},
{"d":63.24,"s":0.175},{"d":63.74,"s":0.16},{"d":64.04,"s":0.21},{"d":64.34,"s":0.148},{"d":64.74,"s":0.175},{"d":65.24,"s":0.188},{"d":65.54,"s":0.182},{"d":65.94,"s":0.215},{"d":66.24,"s":0.2},{"d":66.44,"s":0.195},{"d":66.84,"s":0.17},{"d":67.14,"s":0.185},{"d":67.44,"s":0.198},{"d":67.84,"s":0.205},{"d":68.24,"s":0.195},{"d":68.54,"s":0.18},{"d":68.84,"s":0.185},{"d":69.14,"s":0.178},{"d":69.44,"s":0.19},{"d":69.84,"s":0.225},{"d":70.14,"s":0.165},{"d":70.24,"s":0.158},{"d":70.54,"s":0.172},{"d":70.74,"s":0.19},{"d":67.3,"s":0.296},{"d":65.04,"s":0.138},{"d":68.04,"s":0.125},
{"d":70.94,"s":0.185},{"d":71.54,"s":0.19},{"d":71.94,"s":0.18},{"d":72.24,"s":0.188},{"d":72.54,"s":0.198},{"d":72.84,"s":0.21},{"d":73.54,"s":0.18},{"d":73.94,"s":0.15},{"d":74.34,"s":0.2},{"d":74.84,"s":0.175},{"d":75.14,"s":0.195},{"d":75.54,"s":0.22},{"d":75.94,"s":0.155},{"d":76.04,"s":0.17},{"d":76.34,"s":0.145},{"d":76.84,"s":0.168},{"d":77.14,"s":0.205},{"d":77.54,"s":0.162},{"d":77.94,"s":0.175},{"d":78.34,"s":0.185},{"d":79.04,"s":0.192},{"d":79.14,"s":0.235},{"d":73.04,"s":0.082},{"d":74.04,"s":0.115},{"d":78.64,"s":0.26},
{"d":79.64,"s":0.19},{"d":80.44,"s":0.185},{"d":80.94,"s":0.215},{"d":81.14,"s":0.17},{"d":81.54,"s":0.185},{"d":81.94,"s":0.21},{"d":82.44,"s":0.188},{"d":82.94,"s":0.23},{"d":83.54,"s":0.175},{"d":83.94,"s":0.165},{"d":84.14,"s":0.18},{"d":84.54,"s":0.2},{"d":84.94,"s":0.158},{"d":85.54,"s":0.178},{"d":85.94,"s":0.145},{"d":86.54,"s":0.205},{"d":86.94,"s":0.198},{"d":87.54,"s":0.195},{"d":87.94,"s":0.225},{"d":88.14,"s":0.192},{"d":88.54,"s":0.2},{"d":88.94,"s":0.24},{"d":82.14,"s":0.105},{"d":86.14,"s":0.13},
{"d":89.34,"s":0.195},{"d":89.94,"s":0.2},{"d":90.64,"s":0.205},{"d":91.04,"s":0.195},{"d":91.34,"s":0.205},{"d":91.64,"s":0.2},{"d":92.14,"s":0.21},{"d":92.64,"s":0.16},{"d":93.14,"s":0.175},{"d":93.64,"s":0.21},{"d":93.94,"s":0.225},{"d":94.14,"s":0.172},{"d":94.64,"s":0.255},{"d":95.14,"s":0.22},{"d":95.64,"s":0.265},{"d":95.94,"s":0.235},{"d":96.14,"s":0.155},{"d":96.64,"s":0.18},{"d":97.14,"s":0.188},{"d":97.64,"s":0.215},{"d":98.14,"s":0.185},{"d":98.64,"s":0.178},{"d":98.94,"s":0.19},{"d":99.14,"s":0.195},{"d":99.64,"s":0.24},
{"d":100.3,"s":0.215},{"d":100.9,"s":0.19},{"d":101.7,"s":0.185},{"d":102.2,"s":0.242},{"d":102.8,"s":0.175},{"d":103.3,"s":0.19},{"d":103.6,"s":0.198},{"d":103.9,"s":0.205},{"d":104.3,"s":0.155},{"d":104.8,"s":0.2},{"d":105.3,"s":0.25},{"d":105.7,"s":0.22},{"d":106.3,"s":0.195},{"d":106.8,"s":0.205},{"d":107.3,"s":0.21},{"d":107.7,"s":0.22},{"d":108.3,"s":0.24},{"d":108.6,"s":0.23},{"d":108.9,"s":0.205},{"d":109.3,"s":0.2},{"d":109.6,"s":0.215},{"d":110.3,"s":0.23},{"d":110.8,"s":0.265},{"d":111.3,"s":0.185},{"d":111.7,"s":0.165},
{"d":112.3,"s":0.21},{"d":112.9,"s":0.185},{"d":113.7,"s":0.19},{"d":114.2,"s":0.2},{"d":114.8,"s":0.21},{"d":115.2,"s":0.222},{"d":115.7,"s":0.165},{"d":116.3,"s":0.15},{"d":116.8,"s":0.18},{"d":117.3,"s":0.195},{"d":117.7,"s":0.205},{"d":118.3,"s":0.215},{"d":118.6,"s":0.235},{"d":118.9,"s":0.17},{"d":119.3,"s":0.185},{"d":119.7,"s":0.195},{"d":120.3,"s":0.242},{"d":120.7,"s":0.228},{"d":121.3,"s":0.27},{"d":122.3,"s":0.178},{"d":123.3,"s":0.188},{"d":123.7,"s":0.198},{"d":124.3,"s":0.205},{"d":125.3,"s":0.215},{"d":125.7,"s":0.158},{"d":115.5,"s":0.309},
{"d":126.3,"s":0.195},{"d":126.8,"s":0.185},{"d":127.7,"s":0.19},{"d":128.3,"s":0.205},{"d":128.8,"s":0.198},{"d":129.3,"s":0.2},{"d":129.7,"s":0.192},{"d":130.3,"s":0.158},{"d":130.8,"s":0.178},{"d":131.3,"s":0.205},{"d":131.7,"s":0.175},{"d":132.3,"s":0.2},{"d":132.7,"s":0.225},{"d":133.3,"s":0.188},{"d":133.8,"s":0.215},{"d":134.3,"s":0.238},{"d":134.7,"s":0.21},{"d":135.3,"s":0.2},{"d":135.8,"s":0.195},{"d":136.3,"s":0.185},{"d":136.7,"s":0.21},{"d":137.3,"s":0.105},{"d":137.8,"s":0.178},{"d":138.3,"s":0.165},{"d":138.7,"s":0.18},{"d":139.3,"s":0.172},{"d":139.7,"s":0.185},{"d":140.3,"s":0.225},{"d":140.8,"s":0.145},
{"d":141.3,"s":0.198},{"d":141.8,"s":0.19},{"d":142.7,"s":0.122},{"d":143.3,"s":0.195},{"d":143.8,"s":0.188},{"d":144.3,"s":0.232},{"d":144.7,"s":0.172},{"d":145.3,"s":0.18},{"d":145.8,"s":0.19},{"d":146.4,"s":0.18},{"d":146.7,"s":0.168},{"d":147.3,"s":0.185},{"d":147.8,"s":0.175},{"d":148.3,"s":0.16},{"d":148.7,"s":0.185},{"d":149.3,"s":0.195},{"d":150.3,"s":0.2},{"d":150.8,"s":0.148},{"d":151.3,"s":0.215},{"d":152.3,"s":0.205},{"d":153.3,"s":0.22},{"d":154.3,"s":0.21},{"d":155.3,"s":0.2},{"d":155.8,"s":0.205},{"d":156.3,"s":0.215},{"d":157.3,"s":0.165},{"d":157.8,"s":0.245},{"d":146.2,"s":0.299},
{"d":158.7,"s":0.205},{"d":160.3,"s":0.175},{"d":160.8,"s":0.21},{"d":161.6,"s":0.17},{"d":162.3,"s":0.182},{"d":162.8,"s":0.205},{"d":163.3,"s":0.155},{"d":164.3,"s":0.19},{"d":165.3,"s":0.185},{"d":165.8,"s":0.195},{"d":166.3,"s":0.188},{"d":168.3,"s":0.192},{"d":169.3,"s":0.198},{"d":170.3,"s":0.225},{"d":170.8,"s":0.24},{"d":171.3,"s":0.232},{"d":172.3,"s":0.22},{"d":173.3,"s":0.105},{"d":174.3,"s":0.2},{"d":175.3,"s":0.215},{"d":175.8,"s":0.165},{"d":176.3,"s":0.185},{"d":177.3,"s":0.145},{"d":161.2,"s":0.292},{"d":166.4,"s":0.348},
{"d":178.3,"s":0.195},{"d":179.9,"s":0.188},{"d":180.4,"s":0.225},{"d":182.1,"s":0.205},{"d":182.6,"s":0.215},{"d":183.1,"s":0.19},{"d":183.4,"s":0.185},{"d":185.2,"s":0.222},{"d":185.7,"s":0.16},{"d":186.1,"s":0.178},{"d":187.9,"s":0.2},{"d":188.3,"s":0.185},{"d":189.1,"s":0.175},{"d":189.6,"s":0.182},{"d":190.2,"s":0.168},{"d":191.9,"s":0.2},{"d":192.4,"s":0.15},{"d":193.1,"s":0.21},{"d":194.8,"s":0.165},{"d":195.5,"s":0.093},{"d":195.9,"s":0.198},{"d":196.2,"s":0.235},{"d":197.9,"s":0.205},{"d":198.4,"s":0.115},{"d":199.7,"s":0.245},
{"d":200.4,"s":0.2},{"d":201.9,"s":0.192},{"d":202.5,"s":0.198},{"d":204.2,"s":0.205},{"d":204.7,"s":0.215},{"d":205.4,"s":0.185},{"d":206.2,"s":0.22},{"d":207.1,"s":0.285},{"d":207.6,"s":0.155},{"d":208.3,"s":0.185},{"d":210.2,"s":0.175},{"d":210.6,"s":0.228},{"d":211.4,"s":0.19},{"d":212.4,"s":0.195},{"d":213.1,"s":0.205},{"d":213.7,"s":0.195},{"d":214.5,"s":0.2},{"d":216.1,"s":0.24},{"d":216.9,"s":0.215},{"d":217.3,"s":0.21},{"d":218.1,"s":0.182},{"d":219.2,"s":0.168},{"d":219.6,"s":0.25},{"d":220.7,"s":0.178},{"d":222.1,"s":0.188},{"d":222.6,"s":0.172},{"d":223.5,"s":0.145},
{"d":224.2,"s":0.205},{"d":225.9,"s":0.185},{"d":226.4,"s":0.178},{"d":228.1,"s":0.12},{"d":228.7,"s":0.225},{"d":229.3,"s":0.21},{"d":230.2,"s":0.205},{"d":231.2,"s":0.195},{"d":231.6,"s":0.142},{"d":232.4,"s":0.255},{"d":234.1,"s":0.19},{"d":234.8,"s":0.2},{"d":235.3,"s":0.21},{"d":237.2,"s":0.205},{"d":237.7,"s":0.198},{"d":238.3,"s":0.245},{"d":238.9,"s":0.182},{"d":240.1,"s":0.277},{"d":240.9,"s":0.215},{"d":241.4,"s":0.165},{"d":243.1,"s":0.218},{"d":243.6,"s":0.235},{"d":244.3,"s":0.195},{"d":244.9,"s":0.188},{"d":246.2,"s":0.172},{"d":246.7,"s":0.19},{"d":247.1,"s":0.22},{"d":248.8,"s":0.2},{"d":249.6,"s":0.16}
],
"med":[
{"d":10.98,"m":0.114,"lo":0.0865,"hi":0.143},{"d":12.36,"m":0.124,"lo":0.103,"hi":0.143},{"d":13.86,"m":0.135,"lo":0.113,"hi":0.158},{"d":15.53,"m":0.147,"lo":0.124,"hi":0.17},{"d":17.42,"m":0.166,"lo":0.144,"hi":0.185},{"d":19.52,"m":0.178,"lo":0.149,"hi":0.207},{"d":21.98,"m":0.15,"lo":0.12,"hi":0.186},{"d":24.64,"m":0.117,"lo":0.078,"hi":0.154},{"d":27.69,"m":0.103,"lo":0.071,"hi":0.134},{"d":30.97,"m":0.101,"lo":0.086,"hi":0.1145},{"d":34.93,"m":0.119,"lo":0.093,"hi":0.141},{"d":39.17,"m":0.129,"lo":0.112,"hi":0.144},{"d":43.92,"m":0.139,"lo":0.123,"hi":0.153},{"d":49.21,"m":0.159,"lo":0.141,"hi":0.172},{"d":55.21,"m":0.175,"lo":0.148,"hi":0.201},{"d":61.88,"m":0.158,"lo":0.133,"hi":0.184},{"d":69.34,"m":0.154,"lo":0.136,"hi":0.17},{"d":77.8,"m":0.164,"lo":0.151,"hi":0.177},{"d":87.2,"m":0.188,"lo":0.176,"hi":0.202},{"d":97.95,"m":0.211,"lo":0.194,"hi":0.23},{"d":109.8,"m":0.216,"lo":0.192,"hi":0.238},{"d":123.1,"m":0.179,"lo":0.152,"hi":0.209},{"d":138.0,"m":0.173,"lo":0.151,"hi":0.194},{"d":155.4,"m":0.174,"lo":0.159,"hi":0.187},{"d":174.2,"m":0.179,"lo":0.163,"hi":0.194},{"d":195.3,"m":0.184,"lo":0.16,"hi":0.207},{"d":219,"m":0.189,"lo":0.171,"hi":0.206},{"d":245.4,"m":0.198,"lo":0.181,"hi":0.215}
],
"blue":[
{"d":11,"s":0.3836},{"d":11.5,"s":0.3669},{"d":12,"s":0.3516},{"d":12.5,"s":0.3376},{"d":13,"s":0.3246},{"d":14,"s":0.3014},{"d":15,"s":0.2813},{"d":16,"s":0.2637},{"d":17,"s":0.2482},{"d":18,"s":0.2344},{"d":19,"s":0.2221},{"d":20,"s":0.211},{"d":22,"s":0.1918},{"d":24,"s":0.1758},{"d":26,"s":0.1623},{"d":28,"s":0.1507},{"d":30,"s":0.1406},{"d":33,"s":0.1279},{"d":36,"s":0.1172},{"d":40,"s":0.1055},{"d":45,"s":0.0938},{"d":50,"s":0.0844},{"d":55,"s":0.0767},{"d":60,"s":0.0703},{"d":70,"s":0.0603},{"d":80,"s":0.0527},{"d":90,"s":0.0469},{"d":100,"s":0.0422},{"d":115,"s":0.0367},{"d":130,"s":0.0325},{"d":150,"s":0.0281},{"d":170,"s":0.0248},{"d":190,"s":0.0222},{"d":210,"s":0.0201},{"d":230,"s":0.0183},{"d":245,"s":0.0172}
]
},
"vconcat":[
{"width":557,"height":360,
"resolve":{"axis":{"x":"independent","y":"independent"}},
"layer":[
{"data":{"name":"top"},"mark":{"type":"square","size":5,"color":"#000","opacity":1},
"encoding":{
"x":{"field":"d","type":"quantitative","scale":{"type":"log","domain":[9,288],"nice":false},"axis":{"orient":"bottom","values":[10,100],"grid":true,"gridDash":[8,344,8,1000],"labels":false,"title":null}},
"y":{"field":"e","type":"quantitative","scale":{"domain":[0,0.4],"nice":false,"zero":false},"axis":{"orient":"left","values":[0.1,0.2,0.3,0.4],"format":".1f","grid":true,"gridDash":[12,533,12,1000],"labelFlush":true,"labelPadding":7,"title":"eμₗ* (mas/yr)","titlePadding":18}}}},
{"data":{"values":[{"d":10,"e":0.1}]},"mark":{"type":"point","opacity":0},
"encoding":{
"x":{"field":"d","type":"quantitative","scale":{"type":"log","domain":[9,288],"nice":false},"axis":{"orient":"top","values":[20,30,40,50,60,70,80,90,200],"grid":true,"gridDash":[4.5,351,4.5,1000],"labels":false,"title":null}},
"y":{"field":"e","type":"quantitative","scale":{"domain":[0,0.4],"nice":false,"zero":false},"axis":{"orient":"right","values":[0.01,0.02,0.03,0.04,0.05,0.06,0.07,0.08,0.09,0.11,0.12,0.13,0.14,0.15,0.16,0.17,0.18,0.19,0.21,0.22,0.23,0.24,0.25,0.26,0.27,0.28,0.29,0.31,0.32,0.33,0.34,0.35,0.36,0.37,0.38,0.39],"grid":true,"gridDash":[6.5,544,6.5,1000],"labels":false,"title":null}}}}
]},
{"width":557,"height":362,
"resolve":{"axis":{"x":"independent","y":"independent"}},
"layer":[
{"data":{"name":"bot"},"mark":{"type":"square","size":7,"color":"#ff0000","opacity":1},
"encoding":{
"x":{"field":"d","type":"quantitative","scale":{"type":"log","domain":[9,288],"nice":false},"axis":{"orient":"bottom","values":[10,100],"format":"d","grid":true,"gridDash":[8,346,8,1000],"labelPadding":15,"title":"D (kpc)","titlePadding":-3}},
"y":{"field":"s","type":"quantitative","scale":{"domain":[0,0.4],"nice":false,"zero":false},"axis":{"orient":"left","values":[0,0.1,0.2,0.3,0.4],"format":".1f","grid":true,"gridDash":[12,533,12,1000],"labelFlush":true,"labelPadding":7,"title":"σμₗ* (mas/yr)","titlePadding":18}}}},
{"data":{"name":"blue"},"mark":{"type":"line","strokeWidth":2.5},
"encoding":{
"x":{"field":"d","type":"quantitative","scale":{"type":"log","domain":[9,288],"nice":false},"axis":null},
"y":{"field":"s","type":"quantitative","scale":{"domain":[0,0.4],"nice":false,"zero":false},"axis":null},
"color":{"datum":"Δμ (σᵥ=20 km s⁻¹)"}}},
{"data":{"name":"med"},"mark":{"type":"errorbar","color":"#222222","thickness":1.5,"ticks":{"size":7}},
"encoding":{
"x":{"field":"d","type":"quantitative","scale":{"type":"log","domain":[9,288],"nice":false},"axis":null},
"y":{"field":"lo","type":"quantitative","scale":{"domain":[0,0.4],"nice":false,"zero":false},"axis":null},
"y2":{"field":"hi"}}},
{"data":{"name":"med"},"mark":{"type":"line","strokeWidth":2.5},
"encoding":{
"x":{"field":"d","type":"quantitative","scale":{"type":"log","domain":[9,288],"nice":false},"axis":null},
"y":{"field":"m","type":"quantitative","scale":{"domain":[0,0.4],"nice":false,"zero":false},"axis":null},
"color":{"datum":"median eμₗ*","scale":{"domain":["median eμₗ*","Δμ (σᵥ=20 km s⁻¹)"],"range":["#000000","#0000ff"]},
"legend":{"orient":"none","legendX":312,"legendY":7,"title":null,"symbolType":"stroke","symbolSize":1444,"symbolStrokeWidth":1.5,"labelFontSize":22,"labelFont":"Liberation Sans","labelOffset":16,"rowPadding":8,"padding":0,"labelLimit":400,
"encode":{"labels":{"update":{"fill":{"signal":"datum.label === 'median eμₗ*' ? '#000000' : '#0000ff'"}}}}}}}},
{"data":{"values":[{"d":10,"s":0.1}]},"mark":{"type":"point","opacity":0},
"encoding":{
"x":{"field":"d","type":"quantitative","scale":{"type":"log","domain":[9,288],"nice":false},"axis":{"orient":"top","values":[20,30,40,50,60,70,80,90,200],"grid":true,"gridDash":[4.5,353,4.5,1000],"labels":false,"title":null}},
"y":{"field":"s","type":"quantitative","scale":{"domain":[0,0.4],"nice":false,"zero":false},"axis":{"orient":"right","values":[0.01,0.02,0.03,0.04,0.05,0.06,0.07,0.08,0.09,0.11,0.12,0.13,0.14,0.15,0.16,0.17,0.18,0.19,0.21,0.22,0.23,0.24,0.25,0.26,0.27,0.28,0.29,0.31,0.32,0.33,0.34,0.35,0.36,0.37,0.38,0.39],"grid":true,"gridDash":[6.5,544,6.5,1000],"labels":false,"title":null}}}}
]}
]
}
